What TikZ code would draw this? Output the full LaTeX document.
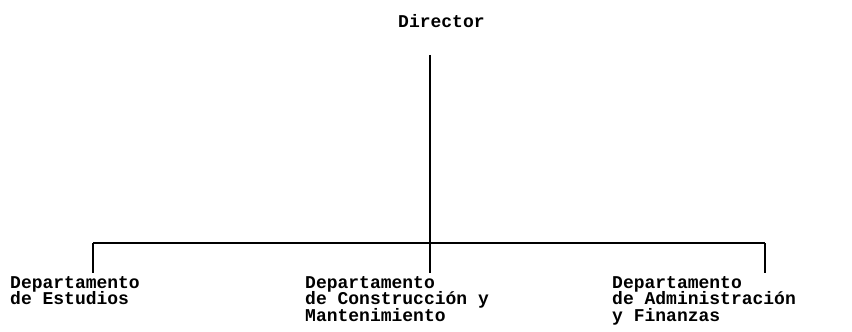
\documentclass[tikz,border=0pt]{standalone}
\usepackage{fontspec}
\setmonofont{Liberation Mono}
\newcommand\orgfont{\ttfamily\bfseries\fontsize{18}{16.5}\selectfont\lineskiplimit=-20pt\relax\lineskip=0pt\relax}
\begin{document}
\begin{tikzpicture}[x=1pt,y=1pt,
  lbl/.style={font=\orgfont, align=left, inner sep=0pt, anchor=north west},
  conn/.style={line width=1.3pt}]
\useasboundingbox (0,0) rectangle (852,332);
\node[lbl, anchor=base west] (dir) at (398,304) {Director};
\node[lbl] (est) at (10,56) {Departamento\\de Estudios};
\node[lbl] (con) at (305,56) {Departamento\\de Construcción y\\Mantenimiento};
\node[lbl] (adm) at (612,56) {Departamento\\de Administración\\y Finanzas};
\coordinate (top) at (430,277);
\coordinate (hub) at (430,89);
\coordinate (hl) at (93,89);
\coordinate (hr) at (765,89);
\coordinate (dl) at (93,59);
\coordinate (dm) at (430,59);
\coordinate (dr) at (765,59);
\draw[conn] (top) -- (hub);
\draw[conn] (hl) -- (hr);
\draw[conn] (hl) -- (dl);
\draw[conn] (hub) -- (dm);
\draw[conn] (hr) -- (dr);
\end{tikzpicture}
\end{document}
